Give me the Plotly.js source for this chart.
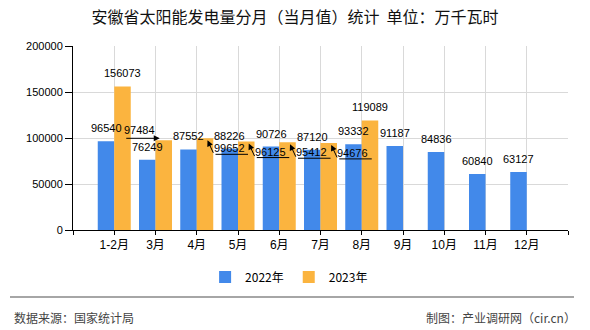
<!DOCTYPE html>
<html>
<head>
<meta charset="utf-8">
<script src="https://cdn.plot.ly/plotly-3.0.1.min.js"></script>
<style>html,body{margin:0;padding:0;background:#fff;}#chart{width:590px;height:330px;}</style>
</head>
<body>
<div id="chart"></div>
<script>
const categories = ['1-2月','3月','4月','5月','6月','7月','8月','9月','10月','11月','12月'];
const values2022 = [96540, 76249, 87552, 88226, 90726, 87120, 93332, 91187, 84836, 60840, 63127];
const values2023 = [156073, 97484, 99652, 96125, 95412, 94676, 119089];
const seriesNames = ['2022年', '2023年'];
// label placement for 2023 values: 'above', 'left' (arrow from left), 'right' (arrow going down-right)
const labelPlace2023 = ['above', 'left', 'right', 'right', 'right', 'right', 'above'];

const FONT = 'Liberation Sans, Noto Sans CJK SC, sans-serif';
const CJK = 'Noto Sans CJK SC, Liberation Sans, sans-serif';
const idx = categories.map((_, i) => i);
const half = 8.25; // half bar width in px

const traces = [
  {type:'bar', name:seriesNames[0], x:idx, y:values2022, marker:{color:'#4289EA'}, hoverinfo:'skip'},
  {type:'bar', name:seriesNames[1], x:idx.slice(0, values2023.length), y:values2023, marker:{color:'#FBB43F'}, hoverinfo:'skip'}
];

const ann = [];
const lblFont = {family: FONT, size: 11, color: '#000'};
values2022.forEach((v, i) => {
  ann.push({x:i, y:v, xref:'x', yref:'y', text:String(v), showarrow:false, xshift:-half, yshift:6,
            yanchor:'bottom', borderpad:0, font:lblFont});
});
values2023.forEach((v, i) => {
  const p = labelPlace2023[i];
  if (p === 'above') {
    ann.push({x:i, y:v, xref:'x', yref:'y', text:String(v), showarrow:false, xshift:half, yshift:6,
              yanchor:'bottom', borderpad:0, font:lblFont});
  } else if (p === 'left') {
    ann.push({x:i, y:v, xref:'x', yref:'y', text:String(v), showarrow:false, xshift:half-24, yshift:10,
              borderpad:0, font:lblFont});
    ann.push({x:i, y:v, xref:'x', yref:'y', text:'', showarrow:true, xshift:half-4, yshift:2,
              ax:-35, ay:0, arrowhead:2, arrowsize:1.2, arrowwidth:1, arrowcolor:'#000', standoff:0, startstandoff:0});
  } else {
    ann.push({x:i, y:v, xref:'x', yref:'y', text:String(v), showarrow:false, xshift:half+24, yshift:-10,
              borderpad:0, font:lblFont});
    ann.push({x:i, y:v, xref:'x', yref:'y', text:'', showarrow:true, xshift:half+2.5, yshift:-2,
              ax:6.5, ay:14, arrowhead:2, arrowsize:1.2, arrowwidth:1, arrowcolor:'#000', standoff:0, startstandoff:0});
    ann.push({x:i, y:v, xref:'x', yref:'y', text:'', showarrow:true, xshift:half+43, yshift:-16,
              ax:-34, ay:0, arrowhead:0, arrowwidth:1, arrowcolor:'#000', standoff:0, startstandoff:0});
  }
});

ann.push({xref:'paper', yref:'paper', x:(12-73)/495, y:(230-317)/184, xanchor:'left', yanchor:'middle',
          text:'数据来源：国家统计局', showarrow:false, font:{family:CJK, size:12, color:'#444'}});
ann.push({xref:'paper', yref:'paper', x:(578-73)/495, y:(230-317)/184, xanchor:'right', yanchor:'middle',
          text:'制图：产业调研网（cir.cn）', showarrow:false, font:{family:CJK, size:12, color:'#444'}});

const layout = {
  width:590, height:330,
  margin:{l:73, r:22, t:46, b:100, pad:0},
  paper_bgcolor:'#fff', plot_bgcolor:'#fff',
  font:{family:FONT, size:11, color:'#000'},
  title:{text:'安徽省太阳能发电量分月（当月值）统计  单位：万千瓦时', x:0.5, xref:'container', xanchor:'center',
         y:1-17/330, yref:'container', yanchor:'middle', font:{family:CJK, size:16, color:'#111'}},
  barmode:'group', bargap:0.2, bargroupgap:0,
  xaxis:{type:'linear', range:[-1, 11], tickmode:'array',
         tickvals:[-1].concat(idx, [11]), ticktext:[''].concat(categories, ['']),
         showgrid:true, gridcolor:'#d9d9d9', gridwidth:1, zeroline:false,
         showline:true, linecolor:'#000', linewidth:1, ticks:'outside', ticklen:4, tickcolor:'#000',
         tickfont:{family:FONT, size:12, color:'#000'}, fixedrange:true},
  yaxis:{range:[0, 200000], tickmode:'linear', tick0:0, dtick:50000, tickformat:'d',
         showgrid:true, gridcolor:'#d9d9d9', gridwidth:1, zeroline:false,
         showline:true, linecolor:'#000', linewidth:1, ticks:'outside', ticklen:7, tickcolor:'#000',
         tickfont:{family:FONT, size:11, color:'#000'}, fixedrange:true},
  showlegend:true,
  legend:{orientation:'h', xref:'container', yref:'container', x:0.49, xanchor:'center', y:1-277/330, yanchor:'middle',
          font:{family:CJK, size:12, color:'#000'}, itemwidth:30, traceorder:'normal'},
  annotations:ann,
  shapes:[{type:'line', xref:'paper', yref:'paper', x0:(10-73)/495, x1:(574-73)/495, y0:(230-297)/184, y1:(230-297)/184,
           line:{color:'#888', width:1.5}}]
};

Plotly.newPlot('chart', traces, layout, {staticPlot:true, displayModeBar:false});
</script>
</body>
</html>
